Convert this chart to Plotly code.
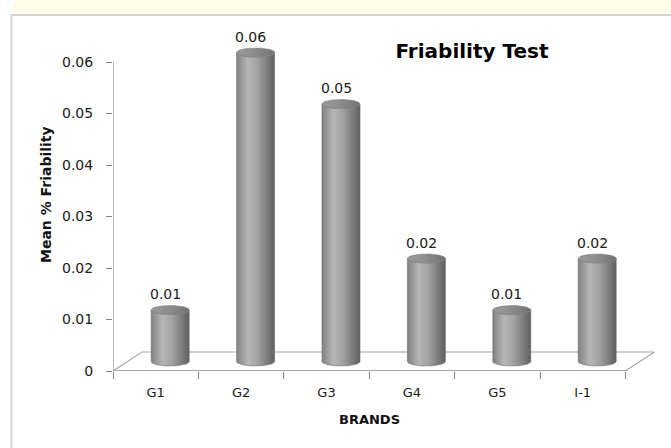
import numpy as np
import plotly.graph_objects as go

# ---- data -------------------------------------------------------------
brands = ["G1", "G2", "G3", "G4", "G5", "I-1"]
mean_friability = [0.01, 0.06, 0.05, 0.02, 0.01, 0.02]
y_tick_values = [0, 0.01, 0.02, 0.03, 0.04, 0.05, 0.06]
y_tick_labels = ["0", "0.01", "0.02", "0.03", "0.04", "0.05", "0.06"]

# ---- geometry ---------------------------------------------------------
W, H = 671, 448
ML, MR, MT, MB = 113, 11, 30, 77
plot_w = W - ML - MR
plot_h = H - MT - MB
cat_px = 85.4            # pixels per category slot
val_px = 5150.0          # pixels per unit of friability
x_max = plot_w / cat_px
y_max = plot_h / val_px

depth_x = 29 / cat_px    # oblique floor depth
depth_y = 19 / val_px
rad_x = 19 / cat_px      # cylinder radius
rad_y = 4.5 / val_px     # ellipse half-height

FONT = "'DejaVu Sans', sans-serif"
AXIS_GREY = "#868686"
FLOOR_GREY = "#a6a6a6"
TEXT = "#1a1a1a"


def px_to_paper(px, py):
    return (px - ML) / plot_w, (H - MB - py) / plot_h


fig = go.Figure()

# floor of the 3-D plot area
n = len(brands)
fig.add_trace(go.Scatter(
    x=[0, n, n + depth_x, depth_x, 0],
    y=[0, 0, depth_y, depth_y, 0],
    mode="lines", line=dict(color=FLOOR_GREY, width=1.2),
    hoverinfo="skip", showlegend=False,
))
fig.add_trace(go.Scatter(
    x=[0, n], y=[0, 0], mode="lines",
    line=dict(color=AXIS_GREY, width=1.2),
    hoverinfo="skip", showlegend=False,
))

# cylinders
t = np.linspace(0, np.pi, 48)
tt = np.linspace(0, 2 * np.pi, 96)
base = depth_y / 2
body_scale = [[0, "#828282"], [0.3, "#b6b6b6"], [0.55, "#a2a2a2"], [1, "#606060"]]
top_scale = [[0, "#9a9a9a"], [0.45, "#8e8e8e"], [1, "#727272"]]
for i, (b, v) in enumerate(zip(brands, mean_friability)):
    cx = i + 0.5 + depth_x / 2
    top = base + v
    bx = np.concatenate([cx - rad_x * np.cos(t), cx + rad_x * np.cos(t)])
    by = np.concatenate([base - rad_y * np.sin(t), top - rad_y * np.sin(t)])
    fig.add_trace(go.Scatter(
        x=np.append(bx, bx[0]), y=np.append(by, by[0]),
        mode="lines", fill="toself", line=dict(width=0.6, color="#6f6f6f"),
        fillgradient=dict(type="horizontal", colorscale=body_scale),
        name=b, hoverinfo="skip", showlegend=False,
    ))
    fig.add_trace(go.Scatter(
        x=cx + rad_x * np.cos(tt), y=top + rad_y * np.sin(tt),
        mode="lines", fill="toself", line=dict(width=0.6, color="#7a7a7a"),
        fillgradient=dict(type="horizontal", colorscale=top_scale),
        name=b, hoverinfo="skip", showlegend=False,
    ))
    fig.add_annotation(
        x=cx, y=top, text=f"{v:.2f}", showarrow=False,
        yshift=16, xshift=-5, font=dict(family=FONT, size=14, color=TEXT),
    )

# value axis line (front plane, 0 .. max tick)
fig.add_shape(type="line", x0=0, x1=0, y0=0, y1=y_tick_values[-1],
              line=dict(color=AXIS_GREY, width=1.2))

# page decoration: yellow band and panel border
bx0, by0 = px_to_paper(12, 0)
bx1, by1 = px_to_paper(W, 13)
cx0, cy0 = px_to_paper(21, 0)
fig.add_shape(
    type="path", xref="paper", yref="paper",
    path=(f"M {bx0},{by1} Q {bx0},{by0} {cx0},{by0} L {bx1},{by0} "
          f"L {bx1},{by1} Z"),
    fillcolor="#fffbe7", line=dict(width=0), layer="below",
)
lx, ty = px_to_paper(11.5, 15)
rx, bb = px_to_paper(W, H)
fig.add_shape(
    type="path", xref="paper", yref="paper",
    path=f"M {lx},{bb} L {lx},{ty} L {rx},{ty}",
    line=dict(color="#d2d2d2", width=2), layer="below",
)

# axis titles
ax, ay = px_to_paper(46, 195)
fig.add_annotation(xref="paper", yref="paper", x=ax, y=ay, text="<b>Mean % Friability</b>",
                   textangle=-90, showarrow=False, xanchor="center", yanchor="middle",
                   font=dict(family=FONT, size=14, color="#111"))
ax, ay = px_to_paper(369, 419)
fig.add_annotation(xref="paper", yref="paper", x=ax, y=ay, text="<b>BRANDS</b>",
                   showarrow=False, xanchor="center", yanchor="middle",
                   font=dict(family=FONT, size=13, color="#111"))

fig.update_layout(
    width=W, height=H,
    margin=dict(l=ML, r=MR, t=MT, b=MB),
    paper_bgcolor="white", plot_bgcolor="rgba(0,0,0,0)",
    title=dict(text="<b>Friability Test</b>", x=472 / W, y=1 - 51 / H,
               xanchor="center", yanchor="middle",
               font=dict(family=FONT, size=20, color="#000")),
    xaxis=dict(
        range=[0, x_max], showgrid=False, zeroline=False, showline=False,
        tickmode="array", tickvals=[i + 0.5 for i in range(n)], ticktext=brands,
        ticks="", ticklabelstandoff=12,
        tickfont=dict(family=FONT, size=13, color=TEXT),
        minor=dict(tickmode="array", tickvals=list(range(n + 1)), ticks="outside",
                   ticklen=7, tickcolor=AXIS_GREY, tickwidth=1),
    ),
    yaxis=dict(
        range=[0, y_max], showgrid=False, zeroline=False, showline=False,
        tickmode="array", tickvals=y_tick_values, ticktext=y_tick_labels,
        ticks="outside", ticklen=6, tickcolor=AXIS_GREY,
        ticklabelstandoff=10,
        tickfont=dict(family=FONT, size=14, color=TEXT),
    ),
    showlegend=False,
)

fig.write_html("out.html")
